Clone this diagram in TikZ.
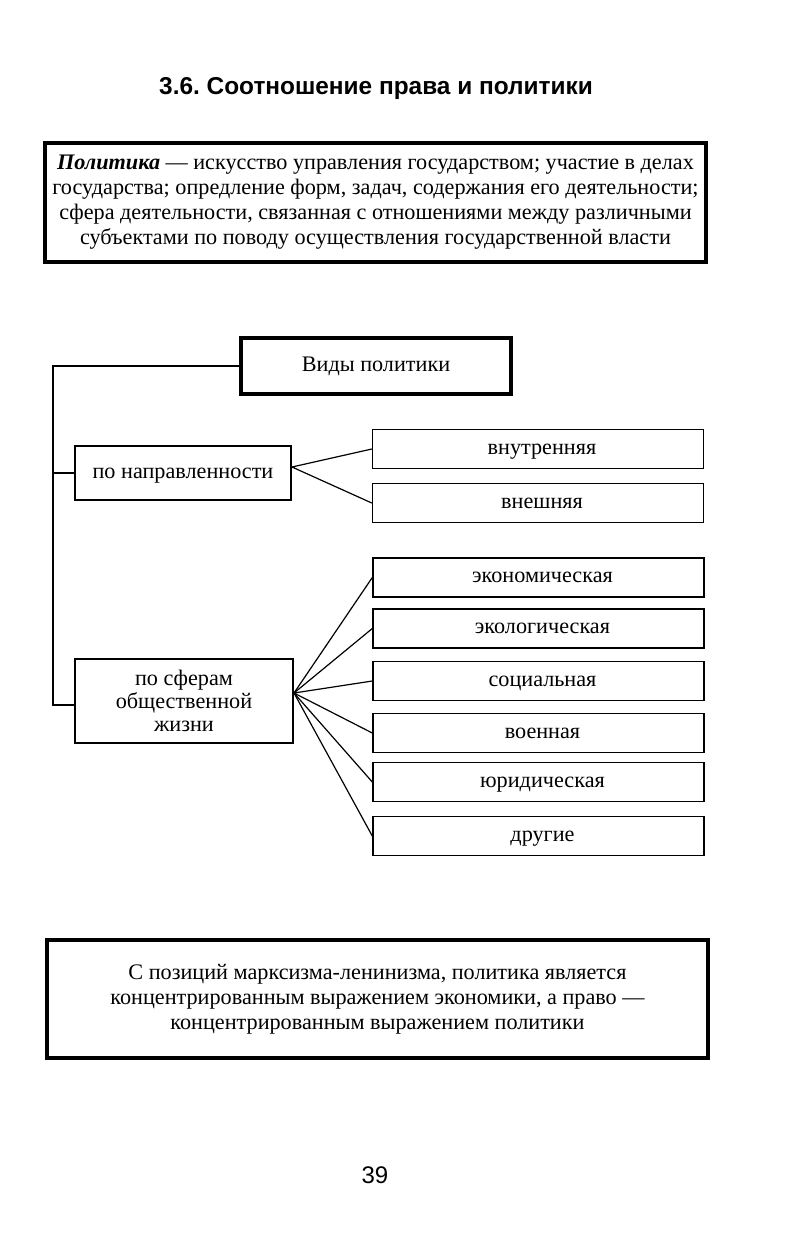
\documentclass[tikz,border=0pt]{standalone}
\usepackage{fontspec}
\setmainfont{Liberation Serif}
\setsansfont{Liberation Sans}
\frenchspacing
\begin{document}
\begin{tikzpicture}[x=0.5pt,y=-0.5pt,
  txt/.style={font=\fontsize{11.1}{12.5}\selectfont},
  thickbox/.style={draw, line width=1.8pt, inner sep=0pt, align=center, txt},
  thinbox/.style={draw, line width=0.7pt, inner sep=0pt, align=center, txt},
  rbox/.style={thinbox, minimum width=165.5pt, minimum height=19.5pt, text height=7.5pt, text depth=2.5pt},
  conn/.style={line width=0.6pt}]
\useasboundingbox (0,0) rectangle (799,1250);
\node[font=\sffamily\bfseries\fontsize{12.2}{14}\selectfont] (title) at (376,89) {3.6. Соотношение права и политики};
\node[thickbox, minimum width=330.5pt, minimum height=59.5pt, text depth=3pt] (def) at (375.5,202.5)
 {\textbf{\textit{Политика}} — искусство управления государством; участие в делах\\
  государства; опредление форм, задач, содержания его деятельности;\\
  сфера деятельности, связанная с отношениями между различными\\
  субъектами по поводу осуществления государственной власти};
\node[thickbox, minimum width=135pt, minimum height=28pt, text height=8pt, text depth=2.5pt] (vidy) at (376,366) {Виды политики};
\node[thinbox, minimum width=108pt, minimum height=27pt, text height=7.5pt, text depth=2.5pt] (napr) at (183,473) {по направленности};
\node[rbox] (vnutr) at (538,449) {\hspace{4pt}внутренняя};
\node[rbox] (vnesh) at (538,503) {\hspace{4pt}внешняя};
\node[thinbox, minimum width=109pt, minimum height=42pt, font=\fontsize{11.1}{11.5}\selectfont] (sfery) at (184,701) {по сферам\\ общественной\\ жизни};
\node[rbox] (econ) at (538.5,577.5) {\hspace{4pt}экономическая};
\node[rbox] (ecol) at (538.5,628.5) {\hspace{4pt}экологическая};
\node[rbox] (soc) at (538.5,681) {\hspace{4pt}социальная};
\node[rbox] (voen) at (538.5,733) {\hspace{4pt}военная};
\node[rbox] (jur) at (538.5,782) {\hspace{4pt}юридическая};
\node[rbox] (drug) at (538.5,836) {\hspace{4pt}другие};
\node[thickbox, minimum width=330.5pt, minimum height=59pt] (marx) at (377.5,999)
 {С позиций марксизма-ленинизма, политика является\\
  концентрированным выражением экономики, а право —\\
  концентрированным выражением политики};
\node[font=\sffamily\fontsize{12}{14}\selectfont] (num) at (375,1175) {39};
% connectors
\coordinate (ltop) at (53,366);
\coordinate (lbot) at (53,705);
\draw[conn] (vidy.west) -- (ltop) -- (lbot) -- (sfery.west |- lbot);
\draw[conn] (napr.west) -- (napr.west -| ltop);
\coordinate (a1) at (292,467);
\draw[conn] (vnutr.west) -- (a1) -- (vnesh.west);
\coordinate (a2) at (294,693);
\foreach \b in {econ,ecol,soc,voen,jur,drug} \draw[conn] (a2) -- (\b.west);
\end{tikzpicture}
\end{document}
